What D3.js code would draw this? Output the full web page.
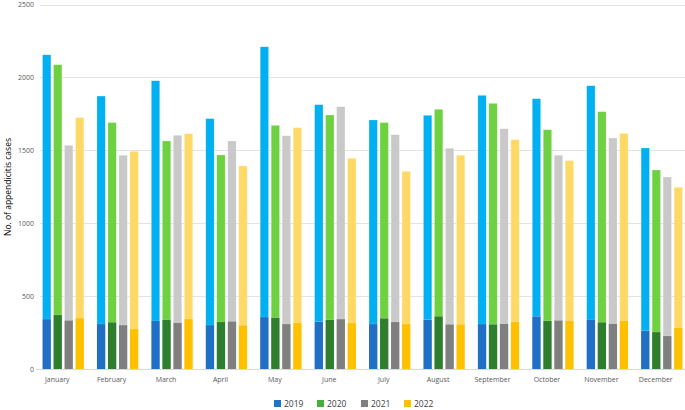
<!DOCTYPE html>
<html>
<head>
<meta charset="utf-8">
<script src="https://cdn.jsdelivr.net/npm/d3@7"></script>
<style>
  html, body { margin: 0; padding: 0; background: #fff; }
  svg { display: block; font-family: "Open Sans", "Liberation Sans", sans-serif; }
</style>
</head>
<body>
<svg id="chart" width="685" height="410"></svg>
<script>
const months = ["January","February","March","April","May","June","July","August","September","October","November","December"];
const years = ["2019","2020","2021","2022"];
// Total cases per month (top of each bar)
const total2019 = [2155,1872,1977,1717,2210,1813,1708,1740,1877,1854,1943,1516];
const total2020 = [2087,1690,1564,1468,1671,1742,1690,1781,1822,1641,1765,1365];
const total2021 = [1534,1466,1603,1564,1600,1799,1607,1514,1648,1466,1584,1317];
const total2022 = [1724,1493,1614,1393,1655,1445,1356,1466,1573,1429,1616,1247];
// Darker lower segment of each bar
const low2019 = [342,308,329,301,356,324,308,338,308,361,336,262];
const low2020 = [370,320,338,322,352,336,347,361,306,329,320,253];
const low2021 = [333,301,317,326,308,342,322,306,310,333,310,226];
const low2022 = [349,274,342,299,315,315,308,306,322,329,329,281];
const yTicks = [0,500,1000,1500,2000,2500];

const totals = {"2019": total2019, "2020": total2020, "2021": total2021, "2022": total2022};
const lows = {"2019": low2019, "2020": low2020, "2021": low2021, "2022": low2022};
const darkColor = {"2019": "#1f70c5", "2020": "#2e7e2d", "2021": "#7f7f7f", "2022": "#ffc000"};
const lightColor = {"2019": "#00b0f0", "2020": "#6ed141", "2021": "#c9c9c9", "2022": "#ffd966"};
const legendColor = {"2019": "#1f73c8", "2020": "#44b03c", "2021": "#7f7f7f", "2022": "#ffc000"};

const svg = d3.select("#chart");
const x0 = d3.scaleBand().domain(months).range([36, 689]).paddingInner(0.24).paddingOuter(0.12);
const x1 = d3.scaleBand().domain(years).range([0, x0.bandwidth()]).paddingInner(0.24);
const y = d3.scaleLinear().domain([0, 2500]).range([369, 4.5]);

// gridlines
svg.append("g").selectAll("line").data(yTicks.filter(d => d > 0)).join("line")
  .attr("x1", 40).attr("x2", 685)
  .attr("y1", d => Math.round(y(d)) + 0.5).attr("y2", d => Math.round(y(d)) + 0.5)
  .attr("stroke", "#e3e3e3").attr("stroke-width", 1);

// y labels
svg.append("g").selectAll("text").data(yTicks).join("text")
  .attr("x", 34).attr("y", d => y(d) + 2.5)
  .attr("text-anchor", "end").attr("font-size", 7).attr("fill", "#595959")
  .text(d => d);

// bars
const groups = svg.append("g").selectAll("g").data(months).join("g")
  .attr("transform", d => `translate(${x0(d)},0)`);
years.forEach(yr => {
  groups.append("rect")
    .attr("x", x1(yr)).attr("width", x1.bandwidth())
    .attr("y", (d, i) => y(totals[yr][i]))
    .attr("height", (d, i) => y(lows[yr][i]) - y(totals[yr][i]))
    .attr("fill", lightColor[yr]).attr("stroke", "#ffffff").attr("stroke-opacity", 0.35).attr("stroke-width", 0.6);
  groups.append("rect")
    .attr("x", x1(yr)).attr("width", x1.bandwidth())
    .attr("y", (d, i) => y(lows[yr][i]))
    .attr("height", (d, i) => y(0) - y(lows[yr][i]))
    .attr("fill", darkColor[yr]);
});

// x axis line
svg.append("line").attr("x1", 36).attr("x2", 685).attr("y1", 369.5).attr("y2", 369.5)
  .attr("stroke", "#d9d9d9").attr("stroke-width", 1);

// month labels
svg.append("g").selectAll("text").data(months).join("text")
  .attr("x", d => x0(d) + x0.bandwidth() / 2 - 6).attr("y", 382)
  .attr("text-anchor", "middle").attr("font-size", 7).attr("fill", "#595959")
  .text(d => d);

// y axis title
svg.append("text").attr("transform", "translate(11,187) rotate(-90)")
  .attr("text-anchor", "middle").attr("font-size", 8.5).attr("fill", "#000")
  .text("No. of appendicitis cases");

// legend
const legendX = [274, 317, 361, 404];
const leg = svg.append("g").selectAll("g").data(years).join("g")
  .attr("transform", (d, i) => `translate(${legendX[i]},400)`);
leg.append("rect").attr("width", 7).attr("height", 7).attr("fill", d => legendColor[d]);
leg.append("text").attr("x", 10).attr("y", 6.8).attr("font-size", 8.5).attr("fill", "#404040").text(d => d);
</script>
</body>
</html>
